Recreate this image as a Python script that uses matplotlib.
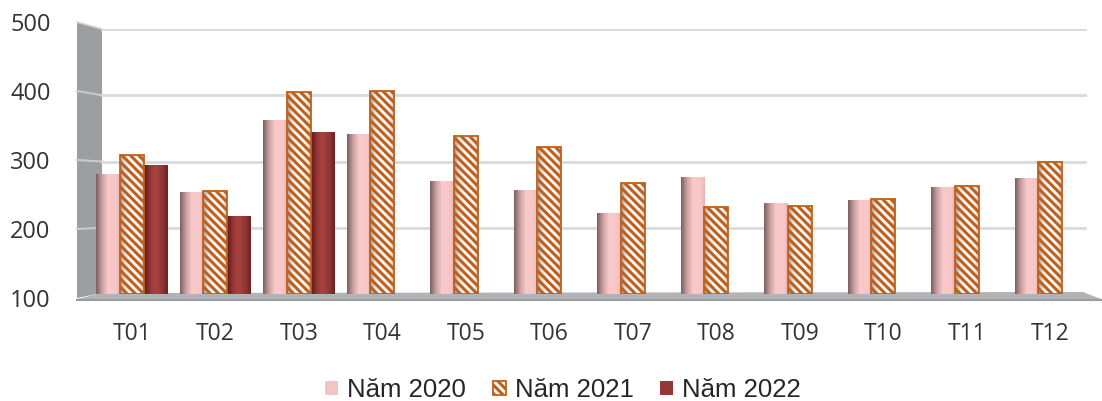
import numpy as np
import matplotlib.pyplot as plt
from matplotlib.patches import Polygon
from matplotlib.colors import to_rgb

# du lieu theo thang
thang = ['T01', 'T02', 'T03', 'T04', 'T05', 'T06',
         'T07', 'T08', 'T09', 'T10', 'T11', 'T12']
nam_2020 = [281, 254, 362, 342, 271, 257, 222, 277, 237, 242, 261, 275]
nam_2021 = [310, 256, 405, 406, 339, 322, 267, 232, 233, 243, 263, 300]
nam_2022 = [294, 218, 345]
nhan = ['Năm 2020', 'Năm 2021', 'Năm 2022']
y_ticks = [100, 200, 300, 400, 500]

W, H = 1102, 401
plt.rcParams['hatch.linewidth'] = 2.2
fig = plt.figure(figsize=(W / 100, H / 100), dpi=100)

# khung 3D: tuong trai va san (toa do pixel)
deco = fig.add_axes([0, 0, 1, 1], zorder=0)
deco.set_xlim(0, W)
deco.set_ylim(H, 0)
deco.axis('off')
deco.add_patch(Polygon([(77, 22), (102, 29), (102, 293), (77, 298)],
                       closed=True, fc='#9c9ea2', ec='none'))
deco.add_patch(Polygon([(77, 299), (102, 293), (1083, 292), (1101, 299)],
                       closed=True, fc='#b1b3b6', ec='none'))
deco.plot([77, 1101], [299.5, 299.5], color='#9a9ca0', lw=1.5)
deco.plot([77, 102], [22, 29], color='#d8d8d8', lw=1.2)
for v in y_ticks[1:-1]:
    yf = 298 - (v - 100) * 276 / 400
    yb = 294 - (v - 100) * 265 / 400
    deco.plot([77, 102], [yf, yb], color='#c9cacc', lw=1.5)

# nhan truc tung theo canh truoc cua tuong
axw = fig.add_axes([77 / W, (H - 298) / H, 25 / W, 276 / H], zorder=1)
axw.set_ylim(100, 500)
axw.set_yticks(y_ticks)
axw.set_xticks([])
axw.tick_params(axis='y', length=0, pad=19, labelsize=17, labelcolor='#333333')
for lb in axw.get_yticklabels():
    lb.set_family('Open Sans')
for s in axw.spines.values():
    s.set_visible(False)
axw.patch.set_visible(False)

ax = fig.add_axes([90 / W, (H - 294) / H, 1002 / W, 265 / H], zorder=2)
ax.patch.set_visible(False)
for s in ax.spines.values():
    s.set_visible(False)

for v in y_ticks[1:]:
    ax.axhline(v, xmin=0.012, xmax=0.993, color='#dadada', lw=2, zorder=1)

x = np.arange(len(thang))
w = 0.285


def shade(rect, stops):
    x0, y0 = rect.get_xy()
    pos = np.linspace(0, 1, 64)
    ps = [p for p, _ in stops]
    cols = np.array([to_rgb(c) for _, c in stops])
    rgb = np.stack([np.interp(pos, ps, cols[:, i]) for i in range(3)], axis=-1)
    im = ax.imshow(rgb[None, :, :], extent=(x0, x0 + rect.get_width(), y0, y0 + rect.get_height()),
                   aspect='auto', interpolation='bilinear', zorder=rect.get_zorder() + 0.05)
    im.set_clip_path(rect)


b20 = ax.bar(x - w, np.array(nam_2020) - 100, w, bottom=100, color='#f4c4c4', zorder=2)
b21f = ax.bar(x, np.array(nam_2021) - 100, w, bottom=100, color='white', zorder=2)
b21 = ax.bar(x, np.array(nam_2021) - 100, w, bottom=100, facecolor='none',
             edgecolor='#c0601a', hatch='\\\\\\\\', lw=1.3, zorder=3)
b22 = ax.bar(x[:len(nam_2022)] + w, np.array(nam_2022) - 100, w, bottom=100,
             color='#953735', zorder=2)

for r in b20:
    shade(r, [(0, '#7d5f60'), (0.25, '#c9a0a1'), (0.5, '#f9caca'), (0.85, '#f8c6c6'), (1, '#e9b4b4')])
for r in b21f:
    shade(r, [(0, '#9a9a9a'), (0.2, '#e6e6e6'), (0.5, '#ffffff'), (0.85, '#f4f4f4'), (1, '#c8c8c8')])
for r in b22:
    shade(r, [(0, '#5c1c1c'), (0.3, '#9f3a3a'), (0.5, '#a84343'), (0.8, '#8e3333'), (1, '#6a2323')])

ax.set_xlim(-0.5, 11.5)
ax.set_ylim(100, 500)
ax.set_yticks([])
ax.set_xticks(x)
ax.set_xticklabels(thang, family='Open Sans', fontsize=16.5, color='#333333')
ax.tick_params(axis='x', length=0, pad=20)

fig.legend([b20, b21, b22], nhan, loc='center', bbox_to_anchor=(563 / W, 1 - 390 / H),
           ncol=3, frameon=False, handlelength=0.5, handleheight=0.5,
           handletextpad=0.35, columnspacing=1.05,
           prop={'family': 'Liberation Sans', 'size': 18.5})
for t in fig.legends[0].get_texts():
    t.set_color('#262626')

plt.savefig('out.png', dpi=100)
